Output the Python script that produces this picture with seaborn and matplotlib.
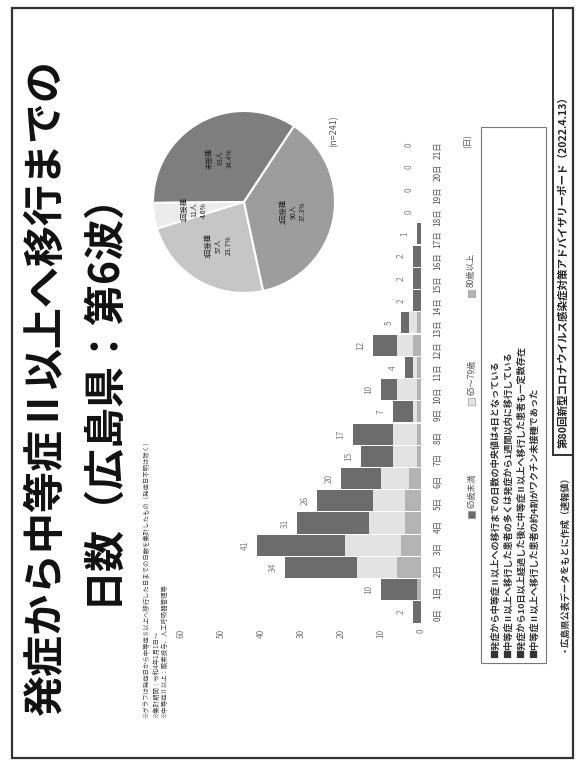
import numpy as np
import pandas as pd
import matplotlib
matplotlib.use("Agg")
import matplotlib.pyplot as plt
from matplotlib.patches import Rectangle
import seaborn as sns

# ---- data -----------------------------------------------------------------
days = ["0日", "1日", "2日", "3日", "4日", "5日", "6日", "7日", "8日", "9日", "10日",
        "11日", "12日", "13日", "14日", "15日", "16日", "17日", "18日", "19日", "20日", "21日"]
# stacked segments, from the baseline outward
seg_mid = [0, 1, 6, 5, 4, 4, 3, 1, 1, 1, 1, 1, 2, 1, 0, 0, 0, 0, 0, 0, 0, 0]
seg_light = [0, 0, 10, 14, 9, 8, 7, 6, 6, 1, 5, 1, 4, 2, 0, 0, 0, 0, 0, 0, 0, 0]
seg_dark = [2, 9, 18, 22, 18, 14, 10, 8, 10, 5, 4, 2, 6, 2, 2, 2, 2, 1, 0, 0, 0, 0]
series_names = ["65歳未満", "65～79歳", "80歳以上"]
value_ticks = [0, 10, 20, 30, 40, 50, 60]

pie_names = ["未接種", "1回接種", "3回接種", "2回接種"]
pie_counts = [83, 11, 57, 90]

title_lines = ["発症から中等症Ⅱ以上へ移行までの", "日数（広島県：第6波）"]
notes = ["※グラフは発症日から中等症Ⅱ以上へ移行した日までの日数を集計したもの（発症日不明は除く）",
         "※集計期間：令和4年1月1日～",
         "※中等症Ⅱ以上：酸素投与、人工呼吸器管理等"]
bullets = ["■発症から中等症Ⅱ以上への移行までの日数の中央値は4日となっている",
           "■中等症Ⅱ以上へ移行した患者の多くは発症から1週間以内に移行している",
           "■発症から10日以上経過した後に中等症Ⅱ以上へ移行した患者も一定数存在",
           "■中等症Ⅱ以上へ移行した患者の約4割がワクチン未接種であった"]
footer = "第80回新型コロナウイルス感染症対策アドバイザリーボード（2022.4.13）"
footnote = "・広島県公表データをもとに作成（速報値）"

# ---- style ----------------------------------------------------------------
sns.set_theme(style="white")
plt.rcParams["font.family"] = ["Noto Sans CJK JP", "DejaVu Sans"]

C_DARK, C_LIGHT, C_MID = "#6c6c6c", "#e3e3e3", "#b4b4b4"
PIE_COLORS = ["#7e7e7e", "#ececec", "#c6c6c6", "#9d9d9d"]
TXT = "#555555"

W, H = 580, 767
fig = plt.figure(figsize=(W / 100, H / 100), dpi=100)
fig.patch.set_facecolor("white")


def fx(px):
    return px / W


def fy(py):
    return 1 - py / H


# ---- histogram (bars grow to the left, day 0 at the bottom) ----------------
base_px, px_per_unit = 421, 4.0
left_px = 170
row0_px, row_step = 612, 22.24
top_px = row0_px - row_step * 21.5
bot_px = row0_px + row_step * 0.5
ax = fig.add_axes([fx(left_px), fy(bot_px), (base_px - left_px) / W, (bot_px - top_px) / H])

df = pd.DataFrame({"day": days, "dark": seg_dark, "light": seg_light, "mid": seg_mid})
df["total"] = df["dark"] + df["light"] + df["mid"]
df["inner"] = df["light"] + df["mid"]
for col, c in [("total", C_DARK), ("inner", C_LIGHT), ("mid", C_MID)]:
    sns.barplot(data=df, x=col, y="day", order=days, orient="h", color=c,
                saturation=1, width=0.95, errorbar=None, linewidth=0, ax=ax)

ax.set_ylim(-0.5, 21.5)
ax.set_xlim((base_px - left_px) / px_per_unit, 0)
ax.set_xlabel("")
ax.set_ylabel("")
ax.set_xticks(value_ticks)
ax.set_xticklabels([str(v) for v in value_ticks])
ax.tick_params(axis="x", length=0, pad=4, labelsize=6, labelrotation=90, labelcolor="#777777")
ax.yaxis.tick_right()
ax.tick_params(axis="y", length=0, pad=9, labelsize=6, labelrotation=90, labelcolor=TXT)
for s in ax.spines.values():
    s.set_visible(False)
ax.grid(False)

for i, t in enumerate(df["total"]):
    ax.text(t + 3, i, f"{t}", rotation=90, ha="center", va="center", fontsize=6, color="#808080")

fig.text(fx(468), fy(141), "(日)", rotation=90, ha="center", va="center", fontsize=6, color=TXT)

# legend for the stacked segments
for start, name, c in zip([518, 405, 297], series_names, [C_DARK, C_LIGHT, C_MID]):
    fig.add_artist(Rectangle((fx(468), fy(start)), 7 / W, 7 / H, transform=fig.transFigure,
                             facecolor=c, edgecolor="#888888", linewidth=0.4))
    fig.text(fx(471.5), fy(start - 10), name, rotation=90, ha="center", va="bottom",
             fontsize=6, color=TXT)

# ---- pie ------------------------------------------------------------------
pc_x, pc_y, pr = 244, 202, 91
half = 96
pax = fig.add_axes([fx(pc_x - half), fy(pc_y + half), 2 * half / W, 2 * half / H])
wedges, _ = pax.pie(pie_counts, colors=PIE_COLORS, startangle=56.6, counterclock=True,
                    wedgeprops=dict(edgecolor="white", linewidth=1.5))
lim = half / pr
pax.set_xlim(-lim, lim)
pax.set_ylim(-lim, lim)
pax.set_aspect("equal")
pax.axis("off")
total_n = sum(pie_counts)
for w, name, n in zip(wedges, pie_names, pie_counts):
    mid = np.deg2rad((w.theta1 + w.theta2) / 2)
    r = 0.55
    pax.text(r * np.cos(mid), r * np.sin(mid), f"{name}\n{n}人\n{n / total_n * 100:.1f}%",
             rotation=90, ha="center", va="center", fontsize=5, color="#222222",
             linespacing=1.3, multialignment="center")
fig.text(fx(334), fy(131), f"(n={total_n})", rotation=90, ha="center", va="center",
         fontsize=6.5, color=TXT)

# ---- title and notes -------------------------------------------------------
fig.text(fx(46), fy(388), title_lines[0], rotation=90, ha="center", va="center",
         fontsize=29.5, fontweight="bold", color="#111111")
fig.text(fx(101), fy(388), title_lines[1], rotation=90, ha="center", va="center",
         fontsize=29.5, fontweight="bold", color="#111111")
for xpx, note in zip([146, 156, 164], notes):
    fig.text(fx(xpx), fy(718), note, rotation=90, ha="center", va="bottom",
             fontsize=4.6, color="#444444")

# ---- comment box -----------------------------------------------------------
fig.add_artist(Rectangle((fx(481), fy(663)), 65 / W, (663 - 127) / H, transform=fig.transFigure,
                         fill=False, edgecolor="#777777", linewidth=0.8))
for xpx, line in zip([495, 508, 521, 534], bullets):
    fig.text(fx(xpx), fy(658), line, rotation=90, ha="center", va="bottom",
             fontsize=6.6, fontweight="bold", color="#333333")

# ---- footer ----------------------------------------------------------------
fig.add_artist(Rectangle((fx(553), fy(455)), 20 / W, (455 - 8) / H, transform=fig.transFigure,
                         fill=False, edgecolor="#333333", linewidth=1.4))
fig.text(fx(563), fy(448), footer, rotation=90, ha="center", va="bottom",
         fontsize=7.6, fontweight="bold", color="#222222")
fig.text(fx(563), fy(652), footnote, rotation=90, ha="center", va="bottom",
         fontsize=6.6, fontweight="bold", color="#333333")

# slide frame
fig.add_artist(Rectangle((fx(12), fy(758)), (573 - 12) / W, (758 - 8) / H, transform=fig.transFigure,
                         fill=False, edgecolor="#333333", linewidth=1.6))

fig.savefig("out.png", dpi=100, facecolor="white")
